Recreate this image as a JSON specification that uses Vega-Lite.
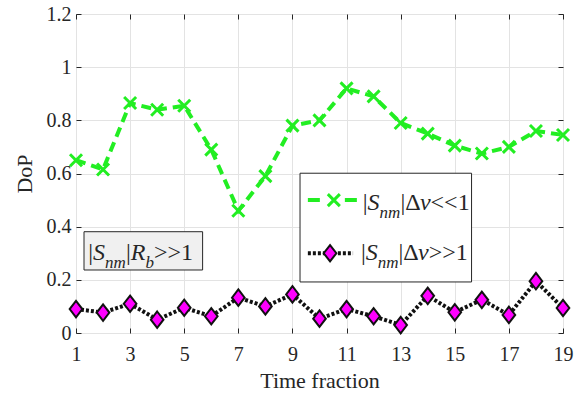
{
  "$schema": "https://vega.github.io/schema/vega-lite/v6.json",
  "width": 487,
  "height": 319,
  "autosize": {"type": "none"},
  "padding": {"left": 76, "top": 14, "right": 11, "bottom": 65},
  "background": "white",
  "config": {
    "view": {"stroke": "#262626", "strokeWidth": 1},
    "font": "Liberation Serif, Times New Roman, serif",
    "text": {"font": "Liberation Serif, Times New Roman, serif"},
    "axis": {
      "labelFont": "Liberation Serif, Times New Roman, serif",
      "titleFont": "Liberation Serif, Times New Roman, serif",
      "labelColor": "#262626",
      "titleColor": "#262626",
      "titleFontWeight": "normal",
      "domain": false,
      "tickColor": "#262626",
      "gridColor": "#e3e3e3",
      "gridWidth": 1,
      "labelFontSize": 20,
      "titleFontSize": 22
    }
  },
  "data": {
    "values": [
      {"t": 1, "low": 0.65, "high": 0.09},
      {"t": 2, "low": 0.615, "high": 0.077},
      {"t": 3, "low": 0.865, "high": 0.11},
      {"t": 4, "low": 0.84, "high": 0.05},
      {"t": 5, "low": 0.855, "high": 0.095},
      {"t": 6, "low": 0.69, "high": 0.063},
      {"t": 7, "low": 0.46, "high": 0.133},
      {"t": 8, "low": 0.59, "high": 0.1},
      {"t": 9, "low": 0.78, "high": 0.145},
      {"t": 10, "low": 0.8, "high": 0.054},
      {"t": 11, "low": 0.92, "high": 0.09},
      {"t": 12, "low": 0.89, "high": 0.063},
      {"t": 13, "low": 0.79, "high": 0.03},
      {"t": 14, "low": 0.75, "high": 0.14},
      {"t": 15, "low": 0.705, "high": 0.078},
      {"t": 16, "low": 0.675, "high": 0.125},
      {"t": 17, "low": 0.7, "high": 0.068},
      {"t": 18, "low": 0.76, "high": 0.195},
      {"t": 19, "low": 0.745, "high": 0.094}
    ]
  },
  "resolve": {"axis": {"x": "independent", "y": "independent"}},
  "layer": [
    {
      "layer": [
        {
          "mark": {"type": "line", "color": "#22ee22", "strokeWidth": 4, "strokeDash": [10, 6]},
          "encoding": {
            "x": {
              "field": "t", "type": "quantitative",
              "scale": {"domain": [1, 19], "nice": false, "zero": false},
              "axis": {"values": [1, 3, 5, 7, 9, 11, 13, 15, 17, 19], "title": "Time fraction", "grid": true, "tickSize": -5, "labelPadding": 16, "titlePadding": 6, "labelFlush": false}
            },
            "y": {
              "field": "low", "type": "quantitative",
              "scale": {"domain": [0, 1.2], "nice": false},
              "axis": {"values": [0, 0.2, 0.4, 0.6, 0.8, 1, 1.2], "format": "~g", "title": "DoP", "grid": true, "tickSize": -5, "labelPadding": 10, "titlePadding": 10, "labelFlush": false}
            }
          }
        },
        {
          "mark": {"type": "line", "color": "#111111", "strokeWidth": 4, "strokeDash": [3, 2]},
          "encoding": {
            "x": {"field": "t", "type": "quantitative"},
            "y": {"field": "high", "type": "quantitative"}
          }
        },
        {
          "mark": {"type": "point", "shape": "M-1,-1L1,1M-1,1L1,-1", "filled": false, "stroke": "#22ee22", "strokeWidth": 3, "size": 144, "opacity": 1},
          "encoding": {
            "x": {"field": "t", "type": "quantitative"},
            "y": {"field": "low", "type": "quantitative"}
          }
        },
        {
          "mark": {"type": "point", "shape": "M0,-1.3L1,0L0,1.3L-1,0Z", "filled": true, "fill": "#ff00ff", "stroke": "#111111", "strokeWidth": 2, "size": 160, "opacity": 1},
          "encoding": {
            "x": {"field": "t", "type": "quantitative"},
            "y": {"field": "high", "type": "quantitative"}
          }
        },
        {
          "data": {"values": [{}]},
          "mark": {"type": "rect", "fill": "white", "stroke": "#262626", "strokeWidth": 1},
          "encoding": {"x": {"datum": 9.28}, "x2": {"datum": 15.62}, "y": {"datum": 0.601}, "y2": {"datum": 0.192}}
        },
        {
          "data": {"values": [{}]},
          "mark": {"type": "rule", "color": "#22ee22", "strokeWidth": 4, "strokeDash": [12, 25]},
          "encoding": {"x": {"datum": 9.57}, "x2": {"datum": 11.42}, "y": {"datum": 0.5}}
        },
        {
          "data": {"values": [{}]},
          "mark": {"type": "point", "shape": "M-1,-1L1,1M-1,1L1,-1", "filled": false, "stroke": "#22ee22", "strokeWidth": 3, "size": 144, "opacity": 1},
          "encoding": {"x": {"datum": 10.53}, "y": {"datum": 0.5}}
        },
        {
          "data": {"values": [{}]},
          "mark": {"type": "rule", "color": "#111111", "strokeWidth": 4, "strokeDash": [3, 2]},
          "encoding": {"x": {"datum": 9.57}, "x2": {"datum": 11.24}, "y": {"datum": 0.3}}
        },
        {
          "data": {"values": [{}]},
          "mark": {"type": "point", "shape": "M0,-1.3L1,0L0,1.3L-1,0Z", "filled": true, "fill": "#ff00ff", "stroke": "#111111", "strokeWidth": 2, "size": 160, "opacity": 1},
          "encoding": {"x": {"datum": 10.39}, "y": {"datum": 0.3}}
        },
        {
          "data": {"values": [{}]},
          "mark": {"type": "text", "text": "|", "align": "left", "baseline": "alphabetic", "fontSize": 24, "color": "#262626"},
          "encoding": {"x": {"datum": 11.6}, "y": {"datum": 0.4628}}
        },
        {
          "data": {"values": [{}]},
          "mark": {"type": "text", "text": "S", "align": "left", "baseline": "alphabetic", "fontSize": 24, "fontStyle": "italic", "dx": 4.8, "color": "#262626"},
          "encoding": {"x": {"datum": 11.6}, "y": {"datum": 0.4628}}
        },
        {
          "data": {"values": [{}]},
          "mark": {"type": "text", "text": "nm", "align": "left", "baseline": "alphabetic", "fontSize": 17, "fontStyle": "italic", "dx": 16.8, "dy": 8, "color": "#262626"},
          "encoding": {"x": {"datum": 11.6}, "y": {"datum": 0.4628}}
        },
        {
          "data": {"values": [{}]},
          "mark": {"type": "text", "text": "|Δ", "align": "left", "baseline": "alphabetic", "fontSize": 24, "dx": 37.6, "color": "#262626"},
          "encoding": {"x": {"datum": 11.6}, "y": {"datum": 0.4628}}
        },
        {
          "data": {"values": [{}]},
          "mark": {"type": "text", "text": "ν", "align": "left", "baseline": "alphabetic", "fontSize": 24, "fontStyle": "italic", "dx": 57.1, "color": "#262626"},
          "encoding": {"x": {"datum": 11.6}, "y": {"datum": 0.4628}}
        },
        {
          "data": {"values": [{}]},
          "mark": {"type": "text", "text": "<<1", "align": "left", "baseline": "alphabetic", "fontSize": 24, "dx": 67.8, "color": "#262626"},
          "encoding": {"x": {"datum": 11.6}, "y": {"datum": 0.4628}}
        },
        {
          "data": {"values": [{}]},
          "mark": {"type": "text", "text": "|", "align": "left", "baseline": "alphabetic", "fontSize": 24, "color": "#262626"},
          "encoding": {"x": {"datum": 11.53}, "y": {"datum": 0.2746}}
        },
        {
          "data": {"values": [{}]},
          "mark": {"type": "text", "text": "S", "align": "left", "baseline": "alphabetic", "fontSize": 24, "fontStyle": "italic", "dx": 4.8, "color": "#262626"},
          "encoding": {"x": {"datum": 11.53}, "y": {"datum": 0.2746}}
        },
        {
          "data": {"values": [{}]},
          "mark": {"type": "text", "text": "nm", "align": "left", "baseline": "alphabetic", "fontSize": 17, "fontStyle": "italic", "dx": 16.8, "dy": 8, "color": "#262626"},
          "encoding": {"x": {"datum": 11.53}, "y": {"datum": 0.2746}}
        },
        {
          "data": {"values": [{}]},
          "mark": {"type": "text", "text": "|Δ", "align": "left", "baseline": "alphabetic", "fontSize": 24, "dx": 37.6, "color": "#262626"},
          "encoding": {"x": {"datum": 11.53}, "y": {"datum": 0.2746}}
        },
        {
          "data": {"values": [{}]},
          "mark": {"type": "text", "text": "ν", "align": "left", "baseline": "alphabetic", "fontSize": 24, "fontStyle": "italic", "dx": 57.1, "color": "#262626"},
          "encoding": {"x": {"datum": 11.53}, "y": {"datum": 0.2746}}
        },
        {
          "data": {"values": [{}]},
          "mark": {"type": "text", "text": ">>1", "align": "left", "baseline": "alphabetic", "fontSize": 24, "dx": 67.8, "color": "#262626"},
          "encoding": {"x": {"datum": 11.53}, "y": {"datum": 0.2746}}
        },
        {
          "data": {"values": [{}]},
          "mark": {"type": "rect", "fill": "#f0f0f0", "stroke": "#262626", "strokeWidth": 1},
          "encoding": {"x": {"datum": 1.296}, "x2": {"datum": 5.68}, "y": {"datum": 0.381}, "y2": {"datum": 0.237}}
        },
        {
          "data": {"values": [{}]},
          "mark": {"type": "text", "text": "|", "align": "left", "baseline": "alphabetic", "fontSize": 24, "color": "#262626"},
          "encoding": {"x": {"datum": 1.4545}, "y": {"datum": 0.2746}}
        },
        {
          "data": {"values": [{}]},
          "mark": {"type": "text", "text": "S", "align": "left", "baseline": "alphabetic", "fontSize": 24, "fontStyle": "italic", "dx": 4.8, "color": "#262626"},
          "encoding": {"x": {"datum": 1.4545}, "y": {"datum": 0.2746}}
        },
        {
          "data": {"values": [{}]},
          "mark": {"type": "text", "text": "nm", "align": "left", "baseline": "alphabetic", "fontSize": 17, "fontStyle": "italic", "dx": 16.8, "dy": 8, "color": "#262626"},
          "encoding": {"x": {"datum": 1.4545}, "y": {"datum": 0.2746}}
        },
        {
          "data": {"values": [{}]},
          "mark": {"type": "text", "text": "|", "align": "left", "baseline": "alphabetic", "fontSize": 24, "dx": 37.6, "color": "#262626"},
          "encoding": {"x": {"datum": 1.4545}, "y": {"datum": 0.2746}}
        },
        {
          "data": {"values": [{}]},
          "mark": {"type": "text", "text": "R", "align": "left", "baseline": "alphabetic", "fontSize": 24, "fontStyle": "italic", "dx": 42.4, "color": "#262626"},
          "encoding": {"x": {"datum": 1.4545}, "y": {"datum": 0.2746}}
        },
        {
          "data": {"values": [{}]},
          "mark": {"type": "text", "text": "b", "align": "left", "baseline": "alphabetic", "fontSize": 17, "fontStyle": "italic", "dx": 57.1, "dy": 8, "color": "#262626"},
          "encoding": {"x": {"datum": 1.4545}, "y": {"datum": 0.2746}}
        },
        {
          "data": {"values": [{}]},
          "mark": {"type": "text", "text": ">>1", "align": "left", "baseline": "alphabetic", "fontSize": 24, "dx": 65.6, "color": "#262626"},
          "encoding": {"x": {"datum": 1.4545}, "y": {"datum": 0.2746}}
        }
      ]
    },
    {
      "mark": {"type": "point", "opacity": 0},
      "encoding": {
        "x": {"field": "t", "type": "quantitative", "axis": {"orient": "top", "values": [1, 3, 5, 7, 9, 11, 13, 15, 17, 19], "labels": false, "title": null, "grid": false, "tickSize": -5, "domain": false}},
        "y": {"field": "low", "type": "quantitative", "axis": {"orient": "right", "values": [0, 0.2, 0.4, 0.6, 0.8, 1, 1.2], "labels": false, "title": null, "grid": false, "tickSize": -5, "domain": false}}
      }
    }
  ]
}
